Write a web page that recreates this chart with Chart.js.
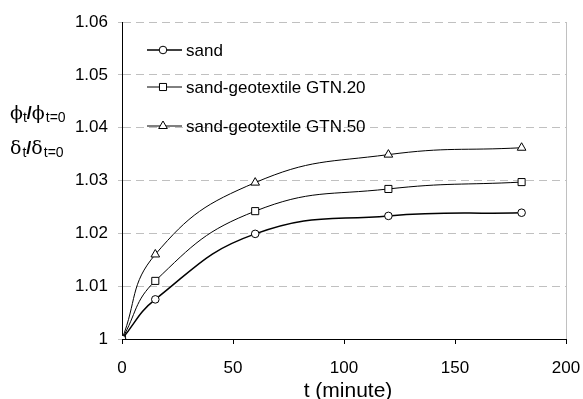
<!DOCTYPE html>
<html>
<head>
<meta charset="utf-8">
<script src="https://cdn.jsdelivr.net/npm/chart.js@4.4.1/dist/chart.umd.min.js"></script>
<style>
  html, body { margin: 0; padding: 0; background: #fff; }
  #wrap { width: 583px; height: 399px; }
</style>
</head>
<body>
<div id="wrap"><canvas id="chart" width="583" height="399"></canvas></div>
<script>
// data
const times = [0, 15, 60, 120, 180];
const sand = [1.000, 1.0075, 1.0199, 1.0233, 1.0239];
const gtn20 = [1.000, 1.0110, 1.0242, 1.0284, 1.0297];
const gtn50 = [1.000, 1.0160, 1.0296, 1.0349, 1.0362];
const seriesNames = ['sand', 'sand-geotextile GTN.20', 'sand-geotextile GTN.50'];
const xTicks = [0, 50, 100, 150, 200];
const yTicks = ['1', '1.01', '1.02', '1.03', '1.04', '1.05', '1.06'];

const FONT = 'Arial, "Liberation Sans", sans-serif';

function toXY(ys) {
    return times.map((t, i) => ({ x: t, y: ys[i] }));
}

// legend drawn inside the plot, Excel-like (line + marker)
const legendPlugin = {
    id: 'insideLegend',
    afterDatasetsDraw(chart) {
        const ctx = chart.ctx;
        const rows = [50, 87, 126];
        ctx.save();
        chart.data.datasets.forEach((ds, i) => {
            const y = rows[i];
            ctx.strokeStyle = '#000';
            ctx.lineWidth = ds.borderWidth;
            ctx.beginPath();
            ctx.moveTo(147, y);
            ctx.lineTo(182, y);
            ctx.stroke();
            ctx.fillStyle = '#fff';
            ctx.lineWidth = 1;
            Chart.helpers.drawPoint(ctx, {
                pointStyle: ds.pointStyle,
                radius: ds.pointRadius,
                borderWidth: 1
            }, 163, y);
            ctx.fillStyle = '#000';
            ctx.font = '17px ' + FONT;
            ctx.textBaseline = 'middle';
            ctx.textAlign = 'left';
            ctx.fillText(ds.label, 186, y + 1);
        });
        ctx.restore();
    }
};

// axis titles, right plot border
const decorPlugin = {
    id: 'decor',
    beforeDatasetsDraw(chart) {
        const { ctx, chartArea } = chart;
        ctx.save();
        ctx.strokeStyle = '#c0c0c0';
        ctx.lineWidth = 1;
        ctx.beginPath();
        ctx.moveTo(chartArea.right + 0.5, chartArea.top);
        ctx.lineTo(chartArea.right + 0.5, chartArea.bottom);
        ctx.stroke();
        ctx.restore();
    },
    afterDraw(chart) {
        const ctx = chart.ctx;
        ctx.save();
        ctx.fillStyle = '#000';
        ctx.textBaseline = 'alphabetic';

        ctx.font = '21px ' + FONT;
        ctx.textAlign = 'center';
        ctx.fillText('t (minute)', 348, 397);
        ctx.textAlign = 'left';

        function part(text, font, x, y) {
            ctx.font = font;
            ctx.fillText(text, x, y);
            return x + ctx.measureText(text).width;
        }
        const big = '19px "DejaVu Serif", serif';
        const slash = 'bold 18px ' + FONT;
        const sub = '14px ' + FONT;

        let x = 10;
        x = part('\u03d5', big, x, 119);
        x = part('t', sub, x, 122);
        x = part('/', slash, x, 119);
        x = part('\u03d5', big, x, 119);
        part('t=0', sub, x + 1, 122);

        x = 10;
        x = part('\u03b4', big, x, 154);
        x = part('t', sub, x + 1, 157);
        x = part('/', slash, x, 154);
        x = part('\u03b4', big, x, 154);
        part('t=0', sub, x + 1, 157);

        ctx.restore();
    }
};

const lineStyle = {
    borderColor: '#000',
    pointBackgroundColor: '#fff',
    pointBorderColor: '#000',
    pointBorderWidth: 1,
    tension: 0.45,
    fill: false
};

new Chart(document.getElementById('chart'), {
    type: 'line',
    data: {
        datasets: [
            Object.assign({ label: seriesNames[0], data: toXY(sand), borderWidth: 1.5, pointStyle: 'circle', pointRadius: 3.8 }, lineStyle),
            Object.assign({ label: seriesNames[1], data: toXY(gtn20), borderWidth: 1, pointStyle: 'rect', pointRadius: 5 }, lineStyle),
            Object.assign({ label: seriesNames[2], data: toXY(gtn50), borderWidth: 1, pointStyle: 'triangle', pointRadius: 5 }, lineStyle)
        ]
    },
    options: {
        responsive: false,
        animation: false,
        events: [],
        layout: { padding: { left: 0, right: 17, top: 22, bottom: 0 } },
        plugins: {
            legend: { display: false },
            tooltip: { enabled: false }
        },
        scales: {
            x: {
                type: 'linear',
                min: 0,
                max: 200,
                afterBuildTicks(scale) {
                    scale.ticks = xTicks.map(v => ({ value: v }));
                },
                afterFit(scale) {
                    scale.height = 60;
                    scale.paddingLeft = 0;
                    scale.paddingRight = 0;
                },
                grid: {
                    drawOnChartArea: false,
                    drawTicks: true,
                    tickLength: 5,
                    color: '#000'
                },
                border: { color: '#000', width: 1 },
                ticks: {
                    padding: 14,
                    color: '#000',
                    maxRotation: 0,
                    font: { size: 17, family: FONT }
                }
            },
            y: {
                min: 1,
                max: 1.06,
                afterBuildTicks(scale) {
                    scale.ticks = yTicks.map(v => ({ value: parseFloat(v) }));
                },
                afterFit(scale) {
                    scale.width = 122;
                    scale.paddingTop = 0;
                    scale.paddingBottom = 0;
                },
                grid: {
                    color: '#c0c0c0',
                    drawTicks: true,
                    tickLength: 4,
                    tickBorderDash: []
                },
                border: { color: '#000', width: 1, dash: [8, 5] },
                ticks: {
                    padding: 10,
                    color: '#000',
                    font: { size: 17, family: FONT },
                    callback: (v, i) => yTicks[i]
                }
            }
        }
    },
    plugins: [decorPlugin, legendPlugin]
});
</script>
</body>
</html>
